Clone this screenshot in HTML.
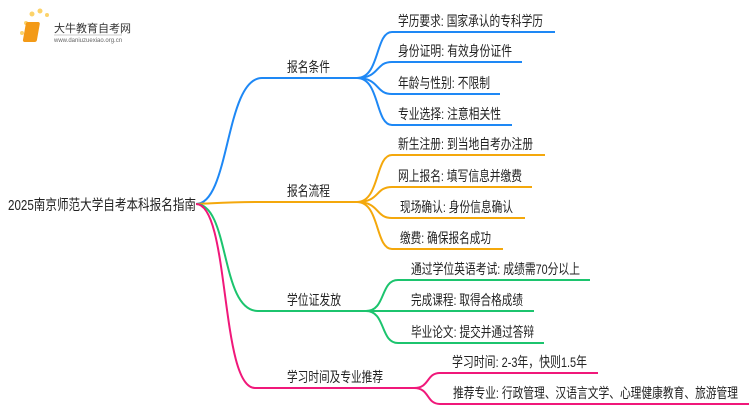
<!DOCTYPE html>
<html><head><meta charset="utf-8"><style>
body{margin:0;width:750px;height:410px;background:#fff;overflow:hidden}
text{font-family:"Liberation Sans","Noto Sans CJK SC",sans-serif;font-size:14px;fill:#222}
</style></head><body>
<svg width="750" height="410" xmlns="http://www.w3.org/2000/svg">
<g fill="none" stroke-width="2">
<g stroke="#1e88f5">
<path d="M196 204 C230 204 225 78 262 78 L357 78"/>
<path d="M357 78 C380 78 375 32 392 32 L555 32"/>
<path d="M357 78 C380 78 375 62 392 62 L522 62"/>
<path d="M357 78 C380 78 375 94 392 94 L500 94"/>
<path d="M357 78 C380 78 375 125 392 125 L512 125"/>
</g>
<g stroke="#f4a80c">
<path d="M196 204 C220 203 230 202 262 202 L357 202"/>
<path d="M357 202 C380 202 375 155 392 155 L545 155"/>
<path d="M357 202 C380 202 375 187 392 187 L532 187"/>
<path d="M357 202 C380 202 375 218 392 218 L525 218"/>
<path d="M357 202 C380 202 375 249 392 249 L503 249"/>
</g>
<g stroke="#1cc46e">
<path d="M196 204 C230 204 220 311 258 311 L366 311"/>
<path d="M366 311 C386 311 380 280 398 280 L590 280"/>
<path d="M366 311 C386 311 380 311 398 311 L534 311"/>
<path d="M366 311 C386 311 380 343 398 343 L544 343"/>
</g>
<g stroke="#f0187a">
<path d="M196 204 C230 204 220 388 255 388 L414 388"/>
<path d="M414 388 C430 388 426 373 440 373 L598 373"/>
<path d="M414 388 C430 388 426 404 440 404 L749 404"/>
</g>
</g>
<text x="8" y="210" style="font-size:14.5px" textLength="188" lengthAdjust="spacingAndGlyphs">2025南京师范大学自考本科报名指南</text>
<text x="287" y="72" textLength="43" lengthAdjust="spacingAndGlyphs">报名条件</text>
<text x="287" y="196" textLength="43" lengthAdjust="spacingAndGlyphs">报名流程</text>
<text x="287" y="305" textLength="54" lengthAdjust="spacingAndGlyphs">学位证发放</text>
<text x="287" y="382" textLength="96" lengthAdjust="spacingAndGlyphs">学习时间及专业推荐</text>
<text x="398" y="26" textLength="145" lengthAdjust="spacingAndGlyphs">学历要求: 国家承认的专科学历</text>
<text x="398" y="56" textLength="114" lengthAdjust="spacingAndGlyphs">身份证明: 有效身份证件</text>
<text x="398" y="88" textLength="92" lengthAdjust="spacingAndGlyphs">年龄与性别: 不限制</text>
<text x="398" y="119" textLength="103" lengthAdjust="spacingAndGlyphs">专业选择: 注意相关性</text>
<text x="398" y="149" textLength="135" lengthAdjust="spacingAndGlyphs">新生注册: 到当地自考办注册</text>
<text x="398" y="181" textLength="124" lengthAdjust="spacingAndGlyphs">网上报名: 填写信息并缴费</text>
<text x="400" y="212" textLength="113" lengthAdjust="spacingAndGlyphs">现场确认: 身份信息确认</text>
<text x="400" y="243" textLength="91" lengthAdjust="spacingAndGlyphs">缴费: 确保报名成功</text>
<text x="411" y="274" textLength="169" lengthAdjust="spacingAndGlyphs">通过学位英语考试: 成绩需70分以上</text>
<text x="411" y="305" textLength="112" lengthAdjust="spacingAndGlyphs">完成课程: 取得合格成绩</text>
<text x="411" y="337" textLength="123" lengthAdjust="spacingAndGlyphs">毕业论文: 提交并通过答辩</text>
<text x="452" y="367" textLength="135" lengthAdjust="spacingAndGlyphs">学习时间: 2-3年，快则1.5年</text>
<text x="453" y="398" textLength="285" lengthAdjust="spacingAndGlyphs">推荐专业: 行政管理、汉语言文学、心理健康教育、旅游管理</text>
<g>
<circle cx="26" cy="23" r="2" fill="#fcd36a"/><circle cx="32" cy="14" r="2.5" fill="#fcd36a"/>
<circle cx="40" cy="11" r="2.5" fill="#fcd36a"/><circle cx="47" cy="15" r="2" fill="#fcd36a"/>
<circle cx="22" cy="33" r="2" fill="#fcd36a"/>
<rect x="30" y="22" width="14" height="20" rx="2" fill="#f39a17" transform="skewX(-10)"/>
<text x="54" y="32" style="font-size:11px;fill:#333">大牛教育自考网</text>
<line x1="54" y1="35" x2="122" y2="35" stroke="#ccc"/>
<text x="54" y="42" style="font-size:6px;fill:#666">www.daniuzuexiao.org.cn</text>
</g>
</svg>
</body></html>
